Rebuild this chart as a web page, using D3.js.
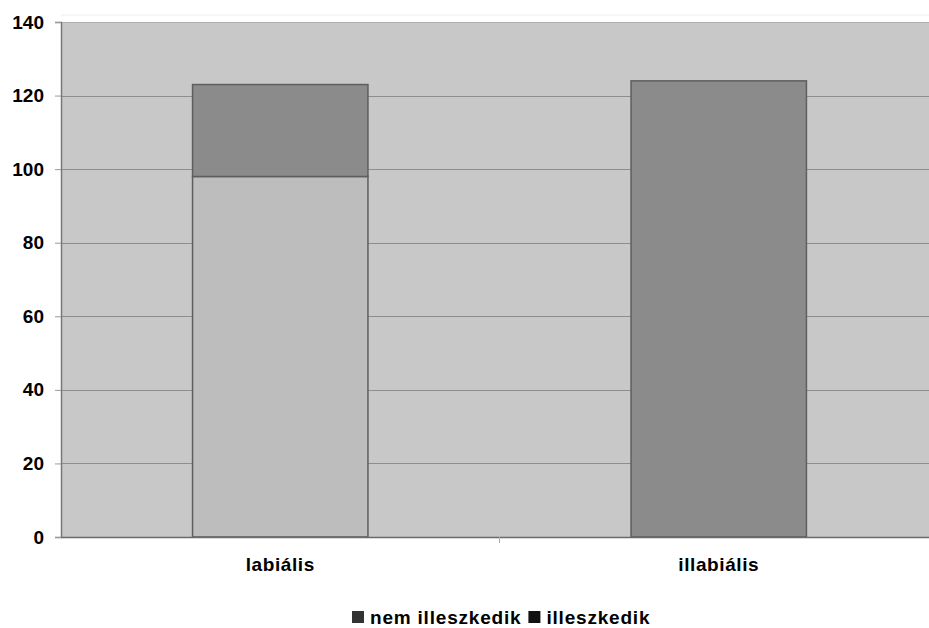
<!DOCTYPE html>
<html><head><meta charset="utf-8">
<script src="https://cdn.jsdelivr.net/npm/d3@7"></script>
<style>body{margin:0;background:#fff;overflow:hidden}svg{display:block}text{font-family:"Liberation Sans",Arial,sans-serif;font-weight:bold;fill:#000}</style>
</head><body>
<svg id="c" width="929" height="628"></svg>
<script>
const categories = ["labiális", "illabiális"];
const seriesNames = ["nem illeszkedik", "illeszkedik"];
const nemIlleszkedik = [98, 0];
const illeszkedik = [25, 124];
const yTicks = [0, 20, 40, 60, 80, 100, 120, 140];

const colors = {"nem illeszkedik": "#bdbdbd", "illeszkedik": "#8b8b8b"};
const svg = d3.select("#c");
const L = 61, R = 938, T = 22, B = 537;

const x = d3.scaleBand().domain(categories).range([L, R]).paddingInner(0.6).paddingOuter(0.3);
const y = d3.scaleLinear().domain([0, 140]).range([B, T]);

const rows = categories.map((c, i) => ({cat: c, "nem illeszkedik": nemIlleszkedik[i], "illeszkedik": illeszkedik[i]}));
const stack = d3.stack().keys(seriesNames)(rows);

// plot background
svg.append("rect").attr("x", L).attr("y", T).attr("width", R - L).attr("height", B - T).attr("fill", "#c8c8c8");
svg.append("line").attr("x1", L).attr("x2", 929).attr("y1", 15).attr("y2", 15).attr("stroke", "#eeeeee");

// gridlines
svg.append("g").selectAll("line").data(yTicks.filter(d => d > 0)).join("line")
  .attr("x1", L).attr("x2", R).attr("y1", d => Math.round(y(d)) + 0.5).attr("y2", d => Math.round(y(d)) + 0.5)
  .attr("stroke", d => d === 140 ? "#b0b0b0" : "#8e8e8e").attr("stroke-width", 1.2);

// bars
svg.append("g").selectAll("g").data(stack).join("g")
  .attr("fill", s => colors[s.key])
  .selectAll("rect").data(s => s.filter(d => d[1] - d[0] > 0)).join("rect")
  .attr("x", d => x(d.data.cat)).attr("width", x.bandwidth())
  .attr("y", d => y(d[1])).attr("height", d => y(d[0]) - y(d[1]))
  .attr("stroke", "#5e5e5e").attr("stroke-width", 1.5);

// y axis
const ya = svg.append("g").attr("transform", `translate(${L},0)`)
  .call(d3.axisLeft(y).tickValues(yTicks).tickSize(6).tickPadding(11));
ya.select(".domain").attr("stroke", "#777").attr("stroke-width", 1.5);
ya.selectAll(".tick line").attr("stroke", "#999");
ya.selectAll("text").attr("font-size", 19).style("font-family", '"Liberation Sans",Arial,sans-serif').style("font-weight", "bold").attr("fill", "#000");

// x axis
const xa = svg.append("g").attr("transform", `translate(0,${B})`)
  .call(d3.axisBottom(x).tickSize(0).tickPadding(21));
xa.select(".domain").attr("stroke", "#6a6a6a").attr("stroke-width", 1.5);
xa.selectAll("text").attr("font-size", 19).style("letter-spacing", "0.6px").style("font-family", '"Liberation Sans",Arial,sans-serif').style("font-weight", "bold").attr("fill", "#000");
xa.append("line").attr("x1", (x(categories[0]) + x.bandwidth() + x(categories[1])) / 2).attr("x2", (x(categories[0]) + x.bandwidth() + x(categories[1])) / 2)
  .attr("y1", 0).attr("y2", 6).attr("stroke", "#aaa");

// legend
const lg = svg.append("g").attr("transform", "translate(352,617)");
let ox = 0;
seriesNames.forEach((n, i) => {
  lg.append("rect").attr("x", ox).attr("y", -6).attr("width", 12).attr("height", 12)
    .attr("fill", i === 0 ? "#333" : "#111");
  const t = lg.append("text").attr("x", ox + 18).attr("y", 0).attr("dy", "0.35em")
    .attr("font-size", 19).style("letter-spacing", "0.8px").text(n);
  ox += 18 + t.node().getComputedTextLength() + 7;
});
</script>
</body></html>
